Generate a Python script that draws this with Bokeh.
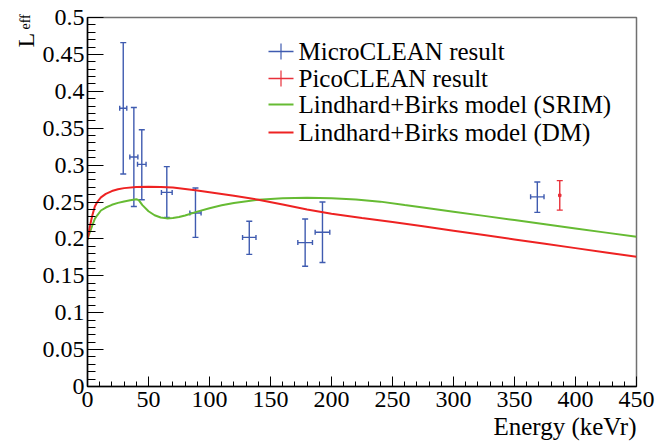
import numpy as np
from bokeh.plotting import figure
from bokeh.models import (ColumnDataSource, Whisker, TeeHead, Label, Arrow, Title,
                          SingleIntervalTicker, CustomJSTickFormatter, Range1d)
from bokeh.embed import file_html
from bokeh.resources import INLINE

# ---------------- data ----------------
micro_x = [29.3, 38.0, 44.5, 65.0, 88.5, 132.6, 178.4, 192.6, 368.7]
micro_y = [0.377, 0.311, 0.301, 0.263, 0.235, 0.202, 0.195, 0.209, 0.257]
micro_y_hi = [0.466, 0.378, 0.348, 0.298, 0.269, 0.224, 0.227, 0.250, 0.277]
micro_y_lo = [0.288, 0.244, 0.253, 0.229, 0.202, 0.179, 0.163, 0.168, 0.236]
micro_xerr = [2.9, 3.3, 3.5, 4.4, 4.6, 5.5, 6.0, 6.0, 5.5]

pico_x = [387.1]
pico_y = [0.259]
pico_y_hi = [0.279]
pico_y_lo = [0.239]

srim_e = [0, 1, 2, 3, 4, 6, 8, 11, 15, 20, 25, 30, 35, 40, 42, 45, 50, 55, 60, 65,
          70, 75, 80, 90, 100, 110, 120, 140, 160, 180, 200, 220, 240, 260, 275,
          300, 325, 350, 375, 400, 425, 450]
srim_l = [0.199, 0.205, 0.2095, 0.2137, 0.2185, 0.2272, 0.232, 0.2385, 0.2425,
          0.2462, 0.2488, 0.2508, 0.2525, 0.2538, 0.2525, 0.2458, 0.2375, 0.2320,
          0.2290, 0.2278, 0.2282, 0.2296, 0.2318, 0.2370, 0.2415, 0.2455, 0.2487,
          0.2530, 0.2552, 0.2557, 0.2550, 0.2535, 0.2505, 0.2458, 0.2425, 0.2369,
          0.2312, 0.2255, 0.2198, 0.2141, 0.2085, 0.2028]

dm_e = [0, 1, 2, 3, 4, 6, 8, 11, 15, 20, 25, 30, 40, 50, 60, 70, 80, 90, 100, 120,
        140, 160, 180, 200, 225, 250, 275, 300, 325, 350, 375, 400, 425, 450]
dm_l = [0.199, 0.208, 0.217, 0.225, 0.232, 0.244, 0.250, 0.2563, 0.2610, 0.2648,
        0.2672, 0.2688, 0.2702, 0.2706, 0.2703, 0.2696, 0.2677, 0.2655, 0.2632,
        0.2585, 0.2531, 0.2465, 0.2398, 0.2340, 0.2283, 0.2228, 0.2170, 0.2111,
        0.2052, 0.1993, 0.1934, 0.1875, 0.1816, 0.1757]

legend_labels = ["MicroCLEAN result", "PicoCLEAN result",
                 "Lindhard+Birks model (SRIM)", "Lindhard+Birks model (DM)"]
x_title = "Energy (keVr)"
y_title_main = "L"
y_title_sub = "eff"

BLUE = "#3f5bb0"
RED_PT = "#e8303a"
GREEN = "#66bb33"
RED = "#ee2222"
FONT = "Liberation Serif"
FONT_AX = "Liberation Serif, serif"

# ---------------- figure ----------------
p = figure(width=655, height=444, output_backend="svg", toolbar_location=None,
           x_range=Range1d(0, 450), y_range=Range1d(0, 0.5))
p.min_border_left = 87
p.min_border_right = 19
p.min_border_top = 17
p.min_border_bottom = 58
p.xgrid.visible = False
p.ygrid.visible = False
p.outline_line_color = "#707070"
p.outline_line_width = 1.5
p.background_fill_color = "white"
p.border_fill_color = "white"

p.xaxis.ticker = SingleIntervalTicker(interval=50, num_minor_ticks=5)
p.yaxis.ticker = SingleIntervalTicker(interval=0.05, num_minor_ticks=5)
p.yaxis.formatter = CustomJSTickFormatter(code="return (Math.round(tick*100)/100).toString();")

p.axis.axis_line_color = "black"
p.axis.axis_line_width = 1.5
p.axis.major_tick_line_color = "black"
p.axis.minor_tick_line_color = "black"
p.axis.major_tick_line_width = 1
p.axis.minor_tick_line_width = 1
p.axis.major_tick_out = 0
p.axis.minor_tick_out = 0
p.axis.major_label_text_font = FONT_AX
p.axis.major_label_text_font_size = "24px"
p.axis.major_label_text_font_style = "normal"
p.axis.major_label_text_color = "black"

p.xaxis.major_tick_in = 10
p.xaxis.minor_tick_in = 5
p.yaxis.major_tick_in = 16
p.yaxis.minor_tick_in = 8
p.xaxis.major_label_standoff = 5
p.yaxis.major_label_standoff = 3

# x axis title: a right-aligned title below the axis
p.add_layout(Title(text=x_title, align="right", text_font=FONT_AX, text_font_size="25px",
                   text_font_style="normal", text_color="black", standoff=2),
             "below")

# ---------------- curves ----------------
p.line(srim_e, srim_l, line_color=GREEN, line_width=2)
p.line(dm_e, dm_l, line_color=RED, line_width=2)

# ---------------- error bars ----------------
src = ColumnDataSource(dict(
    x=micro_x, y=micro_y, hi=micro_y_hi, lo=micro_y_lo,
    xl=[a - b for a, b in zip(micro_x, micro_xerr)],
    xh=[a + b for a, b in zip(micro_x, micro_xerr)]))
p.add_layout(Whisker(source=src, base="x", upper="hi", lower="lo", dimension="height",
                     line_color=BLUE, line_width=1.4,
                     upper_head=TeeHead(size=6, line_color=BLUE, line_width=1.4),
                     lower_head=TeeHead(size=6, line_color=BLUE, line_width=1.4)))
p.add_layout(Whisker(source=src, base="y", upper="xh", lower="xl", dimension="width",
                     line_color=BLUE, line_width=1.4,
                     upper_head=TeeHead(size=5, line_color=BLUE, line_width=1.4),
                     lower_head=TeeHead(size=5, line_color=BLUE, line_width=1.4)))

psrc = ColumnDataSource(dict(x=pico_x, y=pico_y, hi=pico_y_hi, lo=pico_y_lo))
p.add_layout(Whisker(source=psrc, base="x", upper="hi", lower="lo", dimension="height",
                     line_color=RED_PT, line_width=1.4,
                     upper_head=TeeHead(size=6, line_color=RED_PT, line_width=1.4),
                     lower_head=TeeHead(size=6, line_color=RED_PT, line_width=1.4)))
p.scatter(pico_x, pico_y, marker="square", size=2.5, color=RED_PT)

# ---------------- legend (manual, screen units rel. to frame) ----------------
rows_y = [335, 308, 282, 254]
key_x0, key_x1 = 181, 206
text_x = 211
key_colors = [BLUE, RED_PT, GREEN, RED]
for i, (lab, col, ry) in enumerate(zip(legend_labels, key_colors, rows_y)):
    p.add_layout(Arrow(end=None, x_start=key_x0, y_start=ry, x_end=key_x1, y_end=ry,
                       start_units="screen", end_units="screen",
                       line_color=col, line_width=1.4 if i < 2 else 2))
    if i < 2:
        xm = (key_x0 + key_x1) / 2
        p.add_layout(Arrow(end=None, x_start=xm, y_start=ry - 8, x_end=xm, y_end=ry + 8,
                           start_units="screen", end_units="screen",
                           line_color=col, line_width=1.2))
    p.add_layout(Label(x=text_x, y=ry, x_units="screen", y_units="screen", text=lab,
                       text_font=FONT, text_font_size="25px", text_baseline="middle",
                       text_color="black"))

# ---------------- y axis title (side panels so it is not clipped) ----------------
# "L" lives in the top panel (panel bottom = frame top), "eff" in the right panel
p.add_layout(Label(x=-62, y=-30, x_units="screen", y_units="screen", text=y_title_main,
                   angle=np.pi / 2, text_font=FONT, text_font_size="24px",
                   text_align="left", text_baseline="alphabetic", text_color="black"),
             "above")
p.add_layout(Label(x=-611, y=357, x_units="screen", y_units="screen", text=y_title_sub,
                   angle=np.pi / 2, text_font=FONT, text_font_size="14px",
                   text_align="left", text_baseline="alphabetic", text_color="black"),
             "right")

open("out.html", "w").write(file_html(p, INLINE))
